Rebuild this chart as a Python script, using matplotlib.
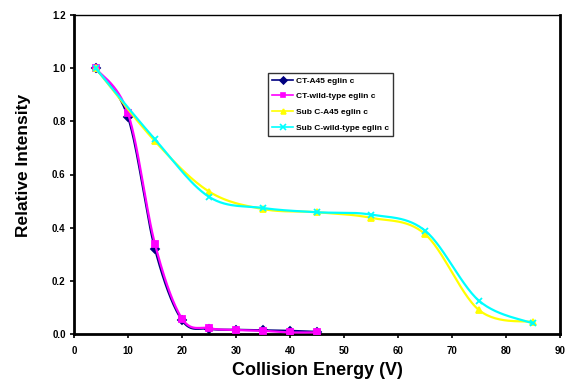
import numpy as np
import matplotlib
matplotlib.use("Agg")
import matplotlib.pyplot as plt

plt.rcParams['font.family'] = ['Liberation Sans', 'DejaVu Sans']

x_ct = [4, 10, 15, 20, 25, 30, 35, 40, 45]
ct_a45 = [1.0, 0.816, 0.32, 0.052, 0.02, 0.016, 0.014, 0.012, 0.008]
ct_wt = [1.0, 0.83, 0.338, 0.058, 0.022, 0.015, 0.012, 0.006, 0.006]

x_sub = [4, 15, 25, 35, 45, 55, 65, 75, 85]
sub_a45 = [1.0, 0.725, 0.536, 0.47, 0.458, 0.437, 0.376, 0.09, 0.045]
sub_wt = [1.0, 0.732, 0.516, 0.474, 0.458, 0.449, 0.389, 0.125, 0.04]

labels = ["CT-A45 eglin c", "CT-wild-type eglin c", "Sub C-A45 eglin c", "Sub C-wild-type eglin c"]
colors = ["#000080", "#FF00FF", "#FFFF00", "#00FFFF"]
markers = ["D", "s", "^", "x"]


def smooth(xs, ys, n=30):
    # Bezier smoothing similar to Excel smoothed lines
    xs = np.asarray(xs, float)
    ys = np.asarray(ys, float)
    P = np.column_stack([xs, ys])
    P = np.vstack([P[0], P, P[-1]])
    out = []
    for i in range(1, len(P) - 2):
        p0, p1, p2, p3 = P[i - 1], P[i], P[i + 1], P[i + 2]
        t = np.linspace(0, 1, n)[:, None]
        c1 = p1 + (p2 - p0) / 6.0
        c2 = p2 - (p3 - p1) / 6.0
        seg = ((1 - t) ** 3) * p1 + 3 * ((1 - t) ** 2) * t * c1 + 3 * (1 - t) * t ** 2 * c2 + t ** 3 * p2
        out.append(seg)
    seg = np.vstack(out)
    return seg[:, 0], seg[:, 1]


fig = plt.figure(figsize=(5.7, 3.79), dpi=100)
ax = fig.add_axes([74 / 570, 1 - 334 / 379, (560 - 74) / 570, (334 - 15) / 379])

series = [(x_ct, ct_a45), (x_ct, ct_wt), (x_sub, sub_a45), (x_sub, sub_wt)]
order = [2, 3, 0, 1]
handles = [None] * 4
for i in order:
    xs, ys = series[i]
    sx, sy = smooth(xs, ys)
    ax.plot(sx, sy, color=colors[i], lw=1.6, zorder=2 + i)
    ms = 4 if markers[i] != "x" else 5
    ax.plot(xs, ys, linestyle="none", marker=markers[i], color=colors[i], ms=ms,
            mew=1.3, zorder=2 + i)
    h, = ax.plot([], [], color=colors[i], lw=1.2, marker=markers[i], ms=ms - 0.5, mew=1.2)
    handles[i] = h

ax.set_xlim(0, 90)
ax.set_ylim(0, 1.2)
ax.set_xticks(np.arange(0, 91, 10))
ax.set_yticks(np.arange(0, 1.21, 0.2))
ax.set_yticklabels([f"{v:.1f}" for v in np.arange(0, 1.21, 0.2)])
for lab in ax.get_xticklabels() + ax.get_yticklabels():
    lab.set_fontweight("bold")
    lab.set_fontsize(7)
ax.tick_params(direction="out", length=3, width=1.2, pad=3)
ax.tick_params(axis="x", pad=6)

ax.spines['left'].set_linewidth(2)
ax.spines['bottom'].set_linewidth(2)
ax.spines['right'].set_linewidth(2)
ax.spines['top'].set_linewidth(1)

ax.set_xlabel("Collision Energy (V)", fontsize=13, fontweight="bold", labelpad=4)
ax.set_ylabel("Relative Intensity", fontsize=12.5, fontweight="bold")
ax.yaxis.set_label_coords((31 - 74) / 486, (334 - 165) / 319)

leg = ax.legend(handles, labels, loc="upper left", bbox_to_anchor=((268 - 74) / 486, (334 - 73) / 319),
                frameon=True, fancybox=False, edgecolor="black",
                handlelength=2.6, borderpad=0.45, labelspacing=0.95, handletextpad=0.3,
                borderaxespad=0, prop={'weight': 'bold', 'size': 6})
leg.get_frame().set_linewidth(1.0)

fig.savefig("out.png", dpi=100)
